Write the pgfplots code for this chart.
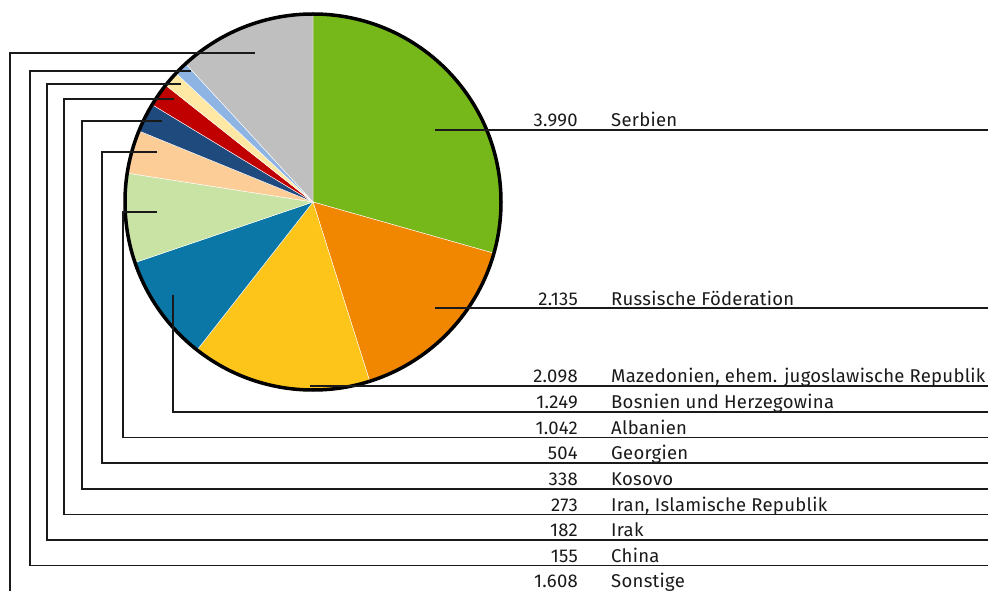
\documentclass[border=0pt]{standalone}
\usepackage{pgfplots}
\pgfplotsset{compat=1.18}
\usepackage{fontspec}
\setmainfont[LetterSpace=1.5]{Fira Sans}
\definecolor{cSer}{HTML}{76B81A}
\definecolor{cRus}{HTML}{F18700}
\definecolor{cMaz}{HTML}{FDC41A}
\definecolor{cBos}{HTML}{0A77A6}
\definecolor{cAlb}{HTML}{C8E3A4}
\definecolor{cGeo}{HTML}{FCCD97}
\definecolor{cKos}{HTML}{1F4A7E}
\definecolor{cIra}{HTML}{C00000}
\definecolor{cIrk}{HTML}{FFE7A4}
\definecolor{cChi}{HTML}{8DB4E2}
\definecolor{cSon}{HTML}{BFBFBF}
\definecolor{lineC}{HTML}{1A1A1A}
% pie: centre (313,388), radius 188 in axis units (= pt)
\newcommand{\total}{13574}
\newcommand{\slice}[3]{% #1 cumulative start value, #2 value, #3 colour
  \pgfmathsetmacro\aS{90-(#1/\total)*360}%
  \pgfmathsetmacro\aE{90-((#1+#2)/\total)*360}%
  \edef\tmp{\noexpand\addplot[fill=#3, draw=white, line width=0.4pt, domain=\aE:\aS, samples=80, variable=\noexpand\t]
    ({313+188*cos(\noexpand\t)},{388+188*sin(\noexpand\t)}) -- (axis cs:313,388) -- cycle;}%
  \tmp}
\newcommand{\lbl}{\fontsize{18.5}{21}\selectfont\color{lineC}}
\newcommand{\row}[3]{% y baseline, value, name
  \node[anchor=base east, inner sep=0pt] at (axis cs:578,#1) {\lbl #2};
  \node[anchor=base west, inner sep=0pt] at (axis cs:611,#1) {\lbl #3};}
\begin{document}
\begin{tikzpicture}
\begin{axis}[
  scale only axis, width=988pt, height=590pt,
  xmin=0, xmax=988, ymin=0, ymax=590,
  hide axis, clip=false,
]
% slices: Serbien, Russ. Föd., Mazedonien, Bosnien, Albanien, Georgien, Kosovo, Iran, Irak, China, Sonstige
\slice{0}{3990}{cSer}
\slice{3990}{2135}{cRus}
\slice{6125}{2098}{cMaz}
\slice{8223}{1249}{cBos}
\slice{9472}{1042}{cAlb}
\slice{10514}{504}{cGeo}
\slice{11018}{338}{cKos}
\slice{11356}{273}{cIra}
\slice{11629}{182}{cIrk}
\slice{11811}{155}{cChi}
\slice{11966}{1608}{cSon}
\draw[black, line width=3.5pt] (axis cs:313,388) circle[radius=188];
% leader lines
\addplot[lineC, line width=1.2pt] coordinates {(435,460) (988,460)};
\addplot[lineC, line width=1.2pt] coordinates {(435,282) (988,282)};
\addplot[lineC, line width=1.2pt] coordinates {(310,204) (988,204)};
\addplot[lineC, line width=1.2pt] coordinates {(173,295) (173,178) (988,178)};
\addplot[lineC, line width=1.2pt] coordinates {(157,378) (123,378) (123,152.5) (988,152.5)};
\addplot[lineC, line width=1.2pt] coordinates {(157,438) (102,438) (102,127) (988,127)};
\addplot[lineC, line width=1.2pt] coordinates {(162,469) (82,469) (82,101) (988,101)};
\addplot[lineC, line width=1.2pt] coordinates {(174,491) (64,491) (64,75.5) (988,75.5)};
\addplot[lineC, line width=1.2pt] coordinates {(181,506) (47,506) (47,50) (988,50)};
\addplot[lineC, line width=1.2pt] coordinates {(191,519) (30,519) (30,24.5) (988,24.5)};
\addplot[lineC, line width=1.2pt] coordinates {(255,537) (10,537) (10,-5)};
% labels
\row{463}{3.990}{Serbien}
\row{285}{2.135}{Russische Föderation}
\row{207.5}{2.098}{Mazedonien, ehem. jugoslawische Republik}
\row{181.5}{1.249}{Bosnien und Herzegowina}
\row{156}{1.042}{Albanien}
\row{130.5}{504}{Georgien}
\row{104.5}{338}{Kosovo}
\row{79}{273}{Iran, Islamische Republik}
\row{53.5}{182}{Irak}
\row{28}{155}{China}
\row{3}{1.608}{Sonstige}
\end{axis}
\pgfresetboundingbox
\useasboundingbox (0,0) rectangle (988pt,590pt);
\end{tikzpicture}
\end{document}
